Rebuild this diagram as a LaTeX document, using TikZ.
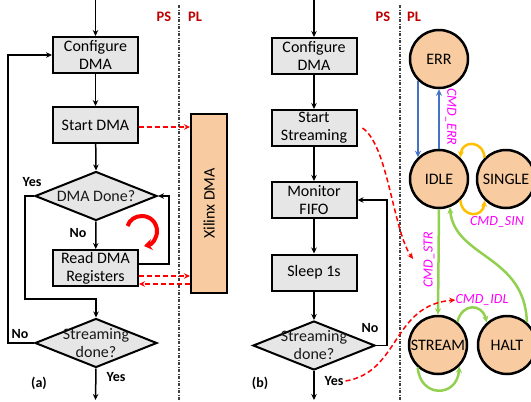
\documentclass[tikz,border=0pt]{standalone}
\usepackage{fontspec}
\setmainfont{Carlito}
\usetikzlibrary{arrows.meta,shapes.geometric,calc}
\definecolor{boxgray}{RGB}{231,230,230}
\definecolor{orng}{HTML}{F8CBA0}
\definecolor{psred}{HTML}{C00000}
\definecolor{cblue}{HTML}{4472C4}
\definecolor{cyel}{HTML}{FFC000}
\definecolor{cgreen}{HTML}{92D050}
\definecolor{cmag}{HTML}{FF00FF}
\begin{document}
\begin{tikzpicture}[x=1pt,y=-1pt,
  box/.style={draw=black, line width=2pt, fill=boxgray, minimum width=85pt, minimum height=36pt, inner sep=0pt, align=center, font=\fontsize{16}{18}\selectfont},
  dia/.style={draw=black, line width=2pt, fill=boxgray, diamond, minimum width=122pt, minimum height=49pt, inner sep=0pt},
  diatext/.style={align=center, inner sep=0pt, font=\fontsize{16}{18}\selectfont, text=black!90},
  arr/.style={line width=1.5pt, -{Stealth[length=6pt,width=5.5pt]}},
  rdash/.style={red, line width=1.5pt, dash pattern=on 5pt off 3pt, -{Stealth[length=6pt,width=5.5pt]}},
  sep/.style={black!75, line width=1.2pt, dash pattern=on 3pt off 1.5pt on 1pt off 1.5pt},
  pslab/.style={text=psred, font=\fontsize{14.5}{16}\selectfont\bfseries, inner sep=0pt},
  yn/.style={font=\fontsize{14}{16}\selectfont\bfseries, inner sep=0pt},
  state/.style={circle, draw=black, line width=2.5pt, fill=orng, minimum size=58pt, inner sep=0pt, font=\fontsize{16}{18}\selectfont},
  carr/.style={line width=2.5pt, -{Stealth[length=6.5pt,width=6pt]}},
  cmd/.style={text=cmag, inner sep=0pt, font=\fontsize{14}{16}\selectfont\itshape}
]
\clip (0,0) rectangle (531,402);

% separators
\draw[sep] (179,5) -- (179,402);
\draw[sep] (400,5) -- (400,402);
\node[pslab] at (164,17) {PS};
\node[pslab] at (195,17) {PL};
\node[pslab] at (383,17) {PS};
\node[pslab] at (414,17) {PL};

% ---------------- (a) ----------------
\coordinate (topA) at (95.5,0);
\coordinate (botA) at (95.5,400);
\node[box] (cfgA) at (95.5,55) {Configure\\DMA};
\node[box] (startA) at (95.5,125) {Start DMA};
\node[dia] (d1) at (96,196) {};
\node[diatext] at (d1) {DMA Done?};
\node[box] (readA) at (95.5,268) {Read DMA\\Registers};
\node[dia] (d2) at (96,343) {};
\node[diatext] at (d2) {Streaming\\done?};
\node[draw=black, line width=2pt, fill=orng, minimum width=36pt, minimum height=179pt, inner sep=0pt] (xil) at (209,203.5) {};
\node[rotate=90, font=\fontsize{16}{18}\selectfont] at (xil) {Xilinx DMA};

\draw[arr] (topA) -- (cfgA);
\draw[arr] (cfgA) -- (startA);
\draw[arr] (startA) -- (d1.north);
\draw[arr] (d1.south) -- (readA);
\draw[arr] (readA.east |- 0,264) -| (169,196) -- (d1.east);
\draw[arr] (d1.west) -- (25,196) -- (25,299) -| (d2.north);
\draw[arr] (d2.west) -- (8,343) |- (cfgA.west);
\draw[arr] (d2.south) -- (botA);

\draw[rdash] (startA.east |- 0,127) -- (xil.west |- 0,127);
\draw[rdash] (readA.east |- 0,276) -- (xil.west |- 0,276);
\draw[rdash] (xil.west |- 0,284) -- (readA.east |- 0,284);

% red circular arrow (clockwise)
\draw[red, line width=4pt, -{Stealth[length=8pt,width=11pt]}]
  (127.5,226) .. controls (129.5,220) and (135,216) .. (142,216)
  .. controls (150.3,216) and (157,222.7) .. (157,231)
  .. controls (157,238.5) and (152,244.5) .. (144,246);

\node[yn] at (32,182) {Yes};
\node[yn] at (78,233) {No};
\node[yn] at (20,334) {No};
\node[yn] at (116,377) {Yes};
\node[yn] at (39,383) {(a)};

% ---------------- (b) ----------------
\coordinate (topB) at (314,0);
\coordinate (botB) at (314,400);
\node[box] (cfgB) at (314,56) {Configure\\DMA};
\node[box] (ssB) at (314,128) {Start\\Streaming};
\node[box] (monB) at (314,200) {Monitor\\FIFO};
\node[box] (slpB) at (314,272.5) {Sleep 1s};
\node[dia] (d3) at (314,345.5) {};
\node[diatext] at (d3) {Streaming\\done?};

\draw[arr] (topB) -- (cfgB);
\draw[arr] (cfgB) -- (ssB);
\draw[arr] (ssB) -- (monB);
\draw[arr] (monB) -- (slpB);
\draw[arr] (slpB) -- (d3.north);
\draw[arr] (d3.east) -- (387,345.5) |- (monB.east);
\draw[arr] (d3.south) -- (botB);

\node[yn] at (370,328) {No};
\node[yn] (yesB) at (334,381) {Yes};
\node[yn] at (260,383) {(b)};

% states
\node[state] (err) at (439,59) {ERR};
\node[state] (idle) at (439,179) {IDLE};
\node[state] (single) at (506,179) {SINGLE};
\node[state] (stream) at (438,345) {STREAM};
\node[state] (halt) at (507,345) {HALT};

\draw[carr, cblue] (err.-134) -- (idle.134);
\draw[carr, cblue] (idle.north) -- (err.south);
\node[cmd, rotate=-90] at (451,117) {CMD\_ERR};

\draw[carr, cyel] (single.135) .. controls (483,140) and (462,140) .. (idle.45);
\draw[carr, cyel] (idle.-45) .. controls (462,218) and (483,218) .. (single.-135);
\node[cmd] at (497,222) {CMD\_SIN};

\draw[carr, cgreen] (idle.south) -- (stream.north);
\node[cmd, rotate=90] at (429,260) {CMD\_STR};
\draw[carr, cgreen] (halt.49) .. controls (525,255) and (455,258) .. (idle.-69);
\draw[carr, cgreen] (stream.50) .. controls (462,303) and (482,303) .. (halt.132);
\draw[carr, cgreen] (stream.-132) .. controls (420,398) and (457,398) .. (stream.-45);

\node[cmd] (cmdidl) at (482,300) {CMD\_IDL};

% red dashed curves
\coordinate (strIn) at (413,259);
\draw[rdash] ([xshift=5pt]ssB.east) .. controls (388,145) and (393,230) .. (strIn);
\draw[rdash] ([xshift=2pt]yesB.east) .. controls (400,372) and (392,305) .. (cmdidl.west);
\end{tikzpicture}
\end{document}
